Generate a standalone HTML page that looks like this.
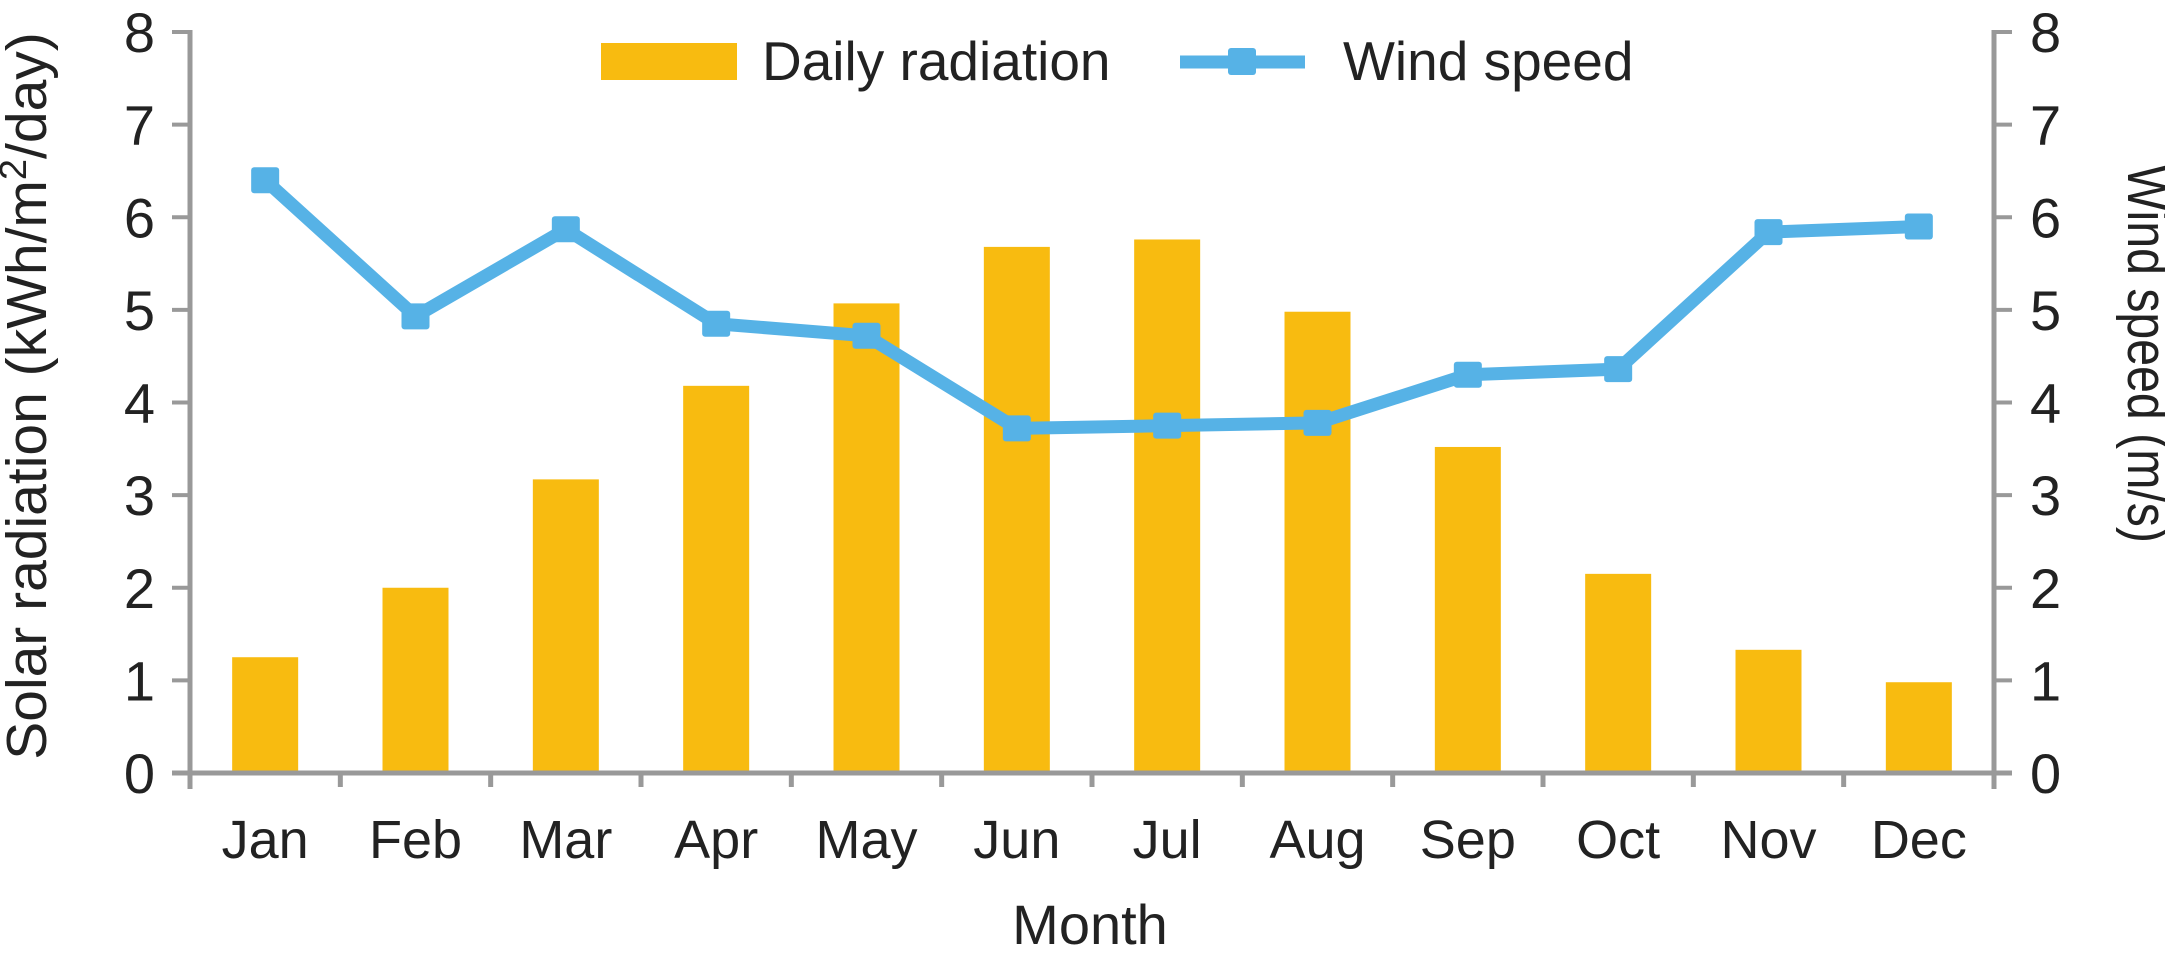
<!DOCTYPE html>
<html><head><meta charset="utf-8"><style>
html,body{margin:0;padding:0;background:#fff;}
svg{display:block;font-family:"Liberation Sans",Arial,sans-serif;}
</style></head><body>
<svg id="chart" width="2165" height="953" viewBox="0 0 2165 953">
<g id="bars"></g>
<g id="axes"></g>
<g id="line"></g>
<text x="46" y="396" font-size="57" text-anchor="middle" transform="rotate(-90 46 396)" fill="#222">Solar radiation (kWh/m<tspan font-size="38" dy="-20">2</tspan><tspan dy="20">/day)</tspan></text>
<text x="2128" y="354" font-size="57" text-anchor="middle" textLength="378" lengthAdjust="spacingAndGlyphs" transform="rotate(90 2128 354)" fill="#222">Wind speed (m/s)</text>
<text x="1090" y="944" font-size="56" text-anchor="middle" fill="#222">Month</text>
<g>
<rect x="601" y="43" width="136" height="37" fill="#F8BB10"/>
<text x="762" y="80" font-size="55" fill="#222">Daily radiation</text>
<line x1="1180" y1="62" x2="1305" y2="62" stroke="#56B2E6" stroke-width="13"/>
<rect x="1228" y="48" width="28" height="27" rx="3" fill="#56B2E6"/>
<text x="1343" y="80" font-size="55" fill="#222">Wind speed</text>
</g>
</svg>
<script>
const months=["Jan","Feb","Mar","Apr","May","Jun","Jul","Aug","Sep","Oct","Nov","Dec"];
const radiation=[1.25,2.0,3.17,4.18,5.07,5.68,5.76,4.98,3.52,2.15,1.33,0.98];
const wind=[6.4,4.93,5.87,4.85,4.72,3.72,3.75,3.78,4.3,4.36,5.84,5.9];
const yTicks=[0,1,2,3,4,5,6,7,8];
const NS="http://www.w3.org/2000/svg";
const X0=190,X1=1994,Y0=773,Y8=32;
const bw=(X1-X0)/months.length;
function xc(i){return X0+bw*(i+0.5);}
function y(v){return Y0-(Y0-Y8)*v/8;}
function mk(tag,attrs,parent){const e=document.createElementNS(NS,tag);for(const k in attrs)e.setAttribute(k,attrs[k]);parent.appendChild(e);return e;}
const gB=document.getElementById('bars'),gA=document.getElementById('axes'),gL=document.getElementById('line');
radiation.forEach((v,i)=>{
 const r=mk('rect',{x:xc(i)-33,y:y(v),width:66,height:Y0-y(v),fill:'#F8BB10'},gB);
 
 
});
const ax="#999";
mk('line',{x1:X0,y1:Y8-2,x2:X0,y2:Y0+16,stroke:ax,'stroke-width':5},gA);
mk('line',{x1:X1,y1:Y8-2,x2:X1,y2:Y0+16,stroke:ax,'stroke-width':5},gA);
mk('line',{x1:X0-18,y1:Y0,x2:X1+18,y2:Y0,stroke:ax,'stroke-width':5},gA);
yTicks.forEach(t=>{
 mk('line',{x1:X0-18,y1:y(t),x2:X0,y2:y(t),stroke:ax,'stroke-width':4},gA);
 mk('line',{x1:X1,y1:y(t),x2:X1+18,y2:y(t),stroke:ax,'stroke-width':4},gA);
 const l=mk('text',{x:155,y:y(t)+20,'font-size':56,'text-anchor':'end',fill:'#222'},gA);l.textContent=t;
 
 
 const r=mk('text',{x:2030,y:y(t)+20,'font-size':56,fill:'#222'},gA);r.textContent=t;
 
 
});
for(let i=0;i<=months.length;i++){mk('line',{x1:X0+bw*i,y1:Y0,x2:X0+bw*i,y2:Y0+14,stroke:ax,'stroke-width':5},gA);}
months.forEach((m,i)=>{
 const t=mk('text',{x:xc(i),y:858,'font-size':54,'text-anchor':'middle',fill:'#222'},gA);t.textContent=m;
 
 
});
const pts=wind.map((v,i)=>xc(i)+','+y(v)).join(' ');
const pl=mk('polyline',{points:pts,fill:'none',stroke:'#56B2E6','stroke-width':13,'stroke-linejoin':'round'},gL);


wind.forEach((v,i)=>{
 const p=mk('rect',{x:xc(i)-14,y:y(v)-13,width:28,height:26,rx:3,fill:'#56B2E6'},gL);
 
 
});
</script>
</body></html>
